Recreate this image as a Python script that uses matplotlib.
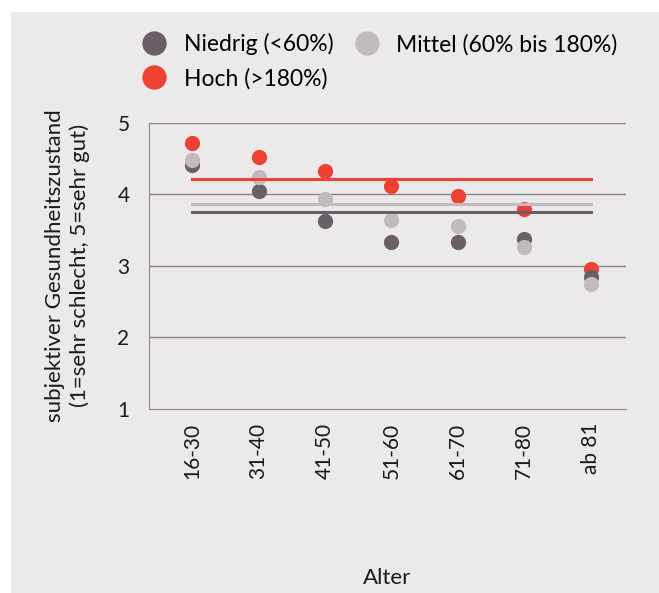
import matplotlib
matplotlib.use("Agg")
import matplotlib.pyplot as plt
from matplotlib.patches import Rectangle
from matplotlib.lines import Line2D
import numpy as np

categories = ["16-30", "31-40", "41-50", "51-60", "61-70", "71-80", "ab 81"]
niedrig = [4.41, 4.04, 3.63, 3.34, 3.34, 3.38, 2.85]
mittel = [4.48, 4.24, 3.93, 3.64, 3.56, 3.27, 2.75]
hoch = [4.71, 4.52, 4.33, 4.11, 3.98, 3.80, 2.96]
avg_niedrig = 3.75
avg_mittel = 3.87
avg_hoch = 4.22
labels = ["Niedrig (<60%)", "Mittel (60% bis 180%)", "Hoch (>180%)"]

c_n = "#6b5f67"
c_m = "#c3babf"
c_h = "#ee4133"
bg = "#ebe9ea"
grid_c = "#8c8387"
txt = "#1a1a1a"

plt.rcParams['font.family'] = ['Lato', 'DejaVu Sans']

fig = plt.figure(figsize=(6.59, 5.93), dpi=100, facecolor="white")
fig.patches.append(Rectangle((11/659, 0), 1 - 11/659, 1 - 12/593, transform=fig.transFigure,
                             facecolor=bg, edgecolor="none", zorder=-10))
ax = fig.add_axes([149/659, 1 - 409/593, (626 - 149)/659, (409 - 122.7)/593])
ax.patch.set_alpha(0)

x = np.arange(len(categories))
ax.set_xlim(-0.65, len(categories) - 1 + 0.53)
ax.set_ylim(1, 5)
for yv in [2, 3, 4, 5]:
    ax.axhline(yv, color=grid_c, lw=1, zorder=1)

s = 120
ax.scatter(x, hoch, s=s, color=c_h, zorder=3, linewidths=0)
ax.scatter(x, niedrig, s=s, color=c_n, zorder=3, linewidths=0)
ax.scatter(x, mittel, s=s, color=c_m, zorder=3, linewidths=0)

ax.plot([x[0], x[-1]], [avg_hoch]*2, color=c_h, lw=2.2, zorder=4)
ax.plot([x[0], x[-1]], [avg_mittel]*2, color=c_m, lw=2.2, zorder=4)
ax.plot([x[0], x[-1]], [avg_niedrig]*2, color=c_n, lw=2.2, zorder=4)

for sp in ["top", "right"]:
    ax.spines[sp].set_visible(False)
ax.spines["left"].set_color(grid_c)
ax.spines["bottom"].set_color(grid_c)

ax.set_xticks(x)
ax.set_xticklabels(categories, rotation=90, fontsize=15, color=txt)
ax.set_yticks([1, 2, 3, 4, 5])
ax.set_yticklabels(["1", "2", "3", "4", "5"], fontsize=15, color=txt)
ax.tick_params(length=0)
ax.tick_params(axis='x', pad=10)
ax.tick_params(axis='y', pad=14)

ax.set_ylabel("subjektiver Gesundheitszustand\n(1=sehr schlecht, 5=sehr gut)", fontsize=16,
              color=txt, labelpad=20, linespacing=1.25)
ax.set_xlabel("Alter", fontsize=16, color=txt)
ax.xaxis.set_label_coords(0.5, -0.555)

handles = [Line2D([], [], marker="o", ls="none", ms=17.5, color=c, markeredgewidth=0)
           for c in [c_n, c_h, c_m]]
fig.legend(handles, [labels[0], labels[2], labels[1]], ncol=2, loc="upper left",
           bbox_to_anchor=(131/659, 1 - 24/593),
           frameon=False, fontsize=16.5, handletextpad=0.7, columnspacing=0.85,
           labelspacing=0.55, handlelength=1.2, borderaxespad=0)

fig.savefig("out.png", dpi=100, facecolor="white")
